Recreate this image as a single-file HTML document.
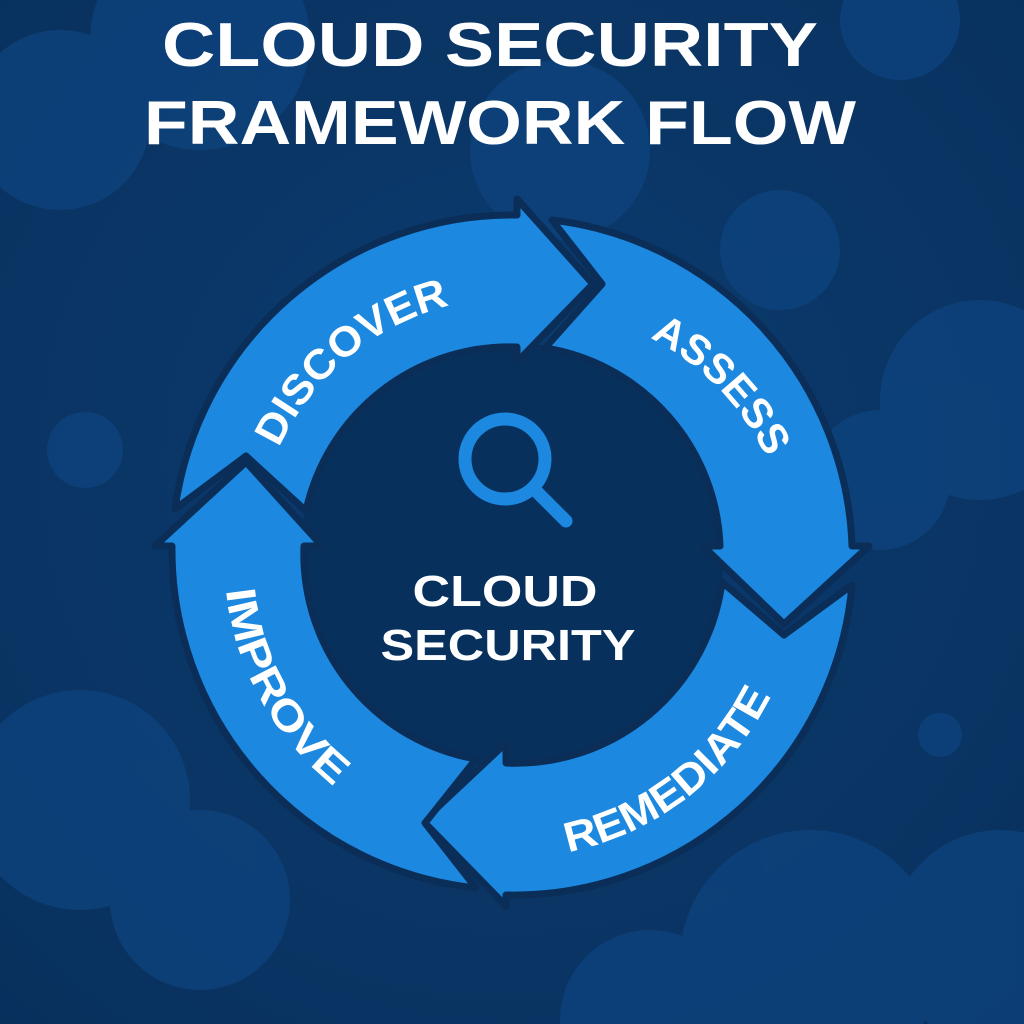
<!DOCTYPE html>
<html><head><meta charset="utf-8"><style>
html,body{margin:0;padding:0;width:1024px;height:1024px;overflow:hidden;background:#0b3868}
svg{display:block}
</style></head><body>
<svg width="1024" height="1024" viewBox="0 0 1024 1024" xmlns="http://www.w3.org/2000/svg">
<defs>
<radialGradient id="bg" cx="50%" cy="45%" r="75%">
<stop offset="0" stop-color="#0c3c70"/><stop offset="1" stop-color="#08305d"/>
</radialGradient>
<path id="tDisc" d="M 279 448 A 257 257 0 0 1 500 298"/>
<path id="tAss" d="M 650 338 A 257 257 0 0 1 772 470"/>
<path id="tRem" d="M 568 852 A 292 292 0 0 0 792 640"/>
<path id="tImp" d="M 226 590 A 292 292 0 0 0 372 812"/>
</defs>
<rect width="1024" height="1024" fill="url(#bg)"/>
<g fill="#0e4580" opacity="0.7">
<circle cx="200" cy="40" r="110"/><circle cx="60" cy="120" r="90"/><circle cx="560" cy="150" r="90"/>
<circle cx="900" cy="20" r="60"/><circle cx="780" cy="250" r="60"/><circle cx="980" cy="400" r="100"/>
<circle cx="880" cy="480" r="70"/><circle cx="85" cy="450" r="38"/><circle cx="940" cy="735" r="22"/>
<circle cx="80" cy="800" r="110"/><circle cx="200" cy="900" r="90"/><circle cx="810" cy="960" r="130"/>
<circle cx="1000" cy="940" r="110"/><circle cx="650" cy="1020" r="90"/>
</g>
<circle cx="512" cy="555" r="212" fill="#08305d"/>
<g fill="#1c88e0" stroke="#0a2e58" stroke-width="7" stroke-linejoin="round">
<path d="M175 509 A340 340 0 0 1 517 215 L517 199 L593 284 L517 362 L517 347 A208 208 0 0 0 306 511 L246 456 Z"/>
<path d="M552 220 A340 340 0 0 1 852 546 L869 546 L784 624 L703 546 L720 546 A208 208 0 0 0 545 348 L602 284 Z"/>
<path d="M852 585 A340 340 0 0 1 506 895 L506 906 L423 821 L506 743 L506 763 A208 208 0 0 0 722 582 L784 635 Z"/>
<path d="M476 888 A340 340 0 0 1 172 546 L155 546 L246 462 L322 546 L304 546 A208 208 0 0 0 476 759 L425 823 Z"/>
</g>
<g font-family="Liberation Sans, sans-serif" font-weight="bold" fill="#fff">
<text font-size="62" x="490" y="66" text-anchor="middle" textLength="656" lengthAdjust="spacingAndGlyphs">CLOUD SECURITY</text>
<text font-size="62" x="500" y="144" text-anchor="middle" textLength="712" lengthAdjust="spacingAndGlyphs">FRAMEWORK FLOW</text>
<text font-size="42"><textPath href="#tDisc" textLength="230" lengthAdjust="spacingAndGlyphs">DISCOVER</textPath></text>
<text font-size="42"><textPath href="#tAss" textLength="170" lengthAdjust="spacingAndGlyphs">ASSESS</textPath></text>
<text font-size="42"><textPath href="#tRem" textLength="265" lengthAdjust="spacingAndGlyphs">REMEDIATE</textPath></text>
<text font-size="42"><textPath href="#tImp" textLength="230" lengthAdjust="spacingAndGlyphs">IMPROVE</textPath></text>
<text font-size="44" x="505" y="606" text-anchor="middle" textLength="185" lengthAdjust="spacingAndGlyphs">CLOUD</text>
<text font-size="44" x="508" y="660" text-anchor="middle" textLength="255" lengthAdjust="spacingAndGlyphs">SECURITY</text>
</g>
<circle cx="505" cy="459" r="40" fill="none" stroke="#1c88e0" stroke-width="13"/>
<line x1="535" y1="490" x2="566" y2="521" stroke="#1c88e0" stroke-width="13" stroke-linecap="round"/>
</svg>
</body></html>
